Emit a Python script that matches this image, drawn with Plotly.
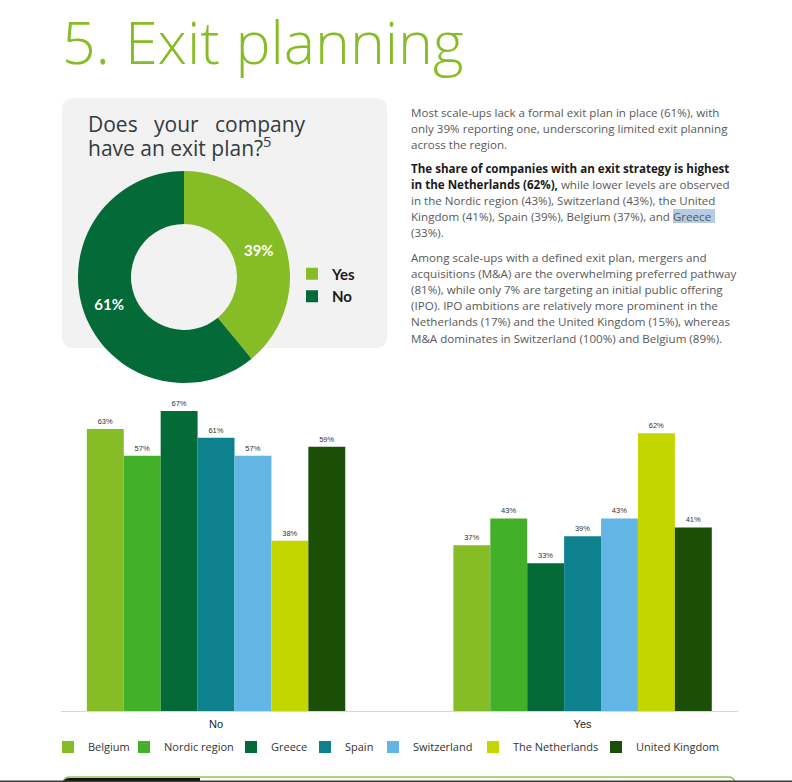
import plotly.graph_objects as go

# ---------------- data ----------------
TITLE = "5. Exit planning"
QUESTION_LINES = ["Does&nbsp;&nbsp; your&nbsp;&nbsp; company", "have an exit plan?<sup>5</sup>"]

DONUT_LABELS = ["Yes", "No"]
DONUT_VALUES = [39, 61]
DONUT_COLORS = ["#86BC25", "#046A38"]

CATEGORIES = ["No", "Yes"]
COUNTRIES = ["Belgium", "Nordic region", "Greece", "Spain", "Switzerland",
             "The Netherlands", "United Kingdom"]
NO_VALUES = [63, 57, 67, 61, 57, 38, 59]
YES_VALUES = [37, 43, 33, 39, 43, 62, 41]
COUNTRY_COLORS = ["#86BC25", "#43B02A", "#046A38", "#0E818E", "#62B5E5",
                  "#C4D600", "#1B4F08"]

BOLD = "<span style='color:#1a1a1a'><b>{}</b></span>"
PARA1 = ["Most scale-ups lack a formal exit plan in place (61%), with",
         "only 39% reporting one, underscoring limited exit planning",
         "across the region."]
PARA2 = [BOLD.format("The share of companies with an exit strategy is highest"),
         BOLD.format("in the Netherlands (62%),") + " while lower levels are observed",
         "in the Nordic region (43%), Switzerland (43%), the United",
         "Kingdom (41%), Spain (39%), Belgium (37%), and Greece",
         "(33%)."]
PARA3 = ["Among scale-ups with a defined exit plan, mergers and",
         "acquisitions (M&amp;A) are the overwhelming preferred pathway",
         "(81%), while only 7% are targeting an initial public offering",
         "(IPO). IPO ambitions are relatively more prominent in the",
         "Netherlands (17%) and the United Kingdom (15%), whereas",
         "M&amp;A dominates in Switzerland (100%) and Belgium (89%)."]

# ---------------- layout helpers ----------------
W, H = 792, 782


def px(x):
    return x / W


def py(y):
    return 1 - y / H


fig = go.Figure()

# donut
fig.add_trace(go.Pie(
    labels=DONUT_LABELS, values=DONUT_VALUES, sort=False, direction="clockwise",
    hole=0.5, marker=dict(colors=DONUT_COLORS, line=dict(width=0)),
    texttemplate="%{value}%", textposition="inside",
    insidetextorientation="horizontal",
    textfont=dict(family="Lato", size=15, color="white", weight="bold"),
    domain=dict(x=[px(78), px(290)], y=[py(383), py(171)]),
    legend="legend8", hoverinfo="label+percent",
))

# grouped bars
for i, name in enumerate(COUNTRIES):
    vals = [NO_VALUES[i], YES_VALUES[i]]
    fig.add_trace(go.Bar(
        x=CATEGORIES, y=vals, name=name,
        marker=dict(color=COUNTRY_COLORS[i], line=dict(width=0)),
        text=[f"{v}%" for v in vals], textposition="outside",
        textfont=dict(family="Liberation Sans", size=7.5, color="#333333"),
        cliponaxis=False, showlegend=True,
        legend="legend" if i == 0 else f"legend{i + 1}",
    ))

LEGEND_X_PX = [62, 138, 245, 319, 387, 487, 610]
legend_layout = {}
for i, x0 in enumerate(LEGEND_X_PX):
    key = "legend" if i == 0 else f"legend{i + 1}"
    legend_layout[key] = dict(
        orientation="h", x=px(x0 - 14), xanchor="left",
        y=py(747), yanchor="middle", visible=True,
        font=dict(family="Open Sans", size=11, color="#333333"),
        bgcolor="rgba(0,0,0,0)", borderwidth=0,
    )
legend_layout["legend8"] = dict(
    orientation="v", x=px(306 - 14), xanchor="left",
    y=py(285), yanchor="middle", tracegroupgap=0,
    font=dict(family="Lato", size=15, color="#1a1a1a", weight="bold"),
    bgcolor="rgba(0,0,0,0)", borderwidth=0,
)

# text annotations
annotations = [
    dict(text=TITLE, x=px(60), y=py(41), xanchor="left", yanchor="middle",
         font=dict(family="Open Sans Light, Open Sans", size=59, color="#86BC25", weight=300)),
    dict(text=QUESTION_LINES[0], x=px(86), y=py(124), xanchor="left", yanchor="middle",
         font=dict(family="Open Sans", size=21, color="#333a40")),
    dict(text=QUESTION_LINES[1], x=px(86), y=py(147), xanchor="left", yanchor="middle",
         font=dict(family="Open Sans", size=21, color="#333a40")),
]
text_font = dict(family="Open Sans", size=11.6, color="#595959")
for lines, y0 in [(PARA1, 112), (PARA2, 168), (PARA3, 257)]:
    for j, line in enumerate(lines):
        annotations.append(dict(text=line, x=px(409), y=py(y0 + 16.2 * j),
                                xanchor="left", yanchor="middle",
                                font=text_font, showarrow=False))
for a in annotations:
    a.update(xref="paper", yref="paper", showarrow=False, align="left")


def rounded_rect(x0, y0, x1, y1, r):
    rx, ry = r / W, r / H
    X0, X1 = px(x0), px(x1)
    Y0, Y1 = py(y0), py(y1)  # Y0 top, Y1 bottom
    return (f"M{X0 + rx},{Y0} L{X1 - rx},{Y0} Q{X1},{Y0} {X1},{Y0 - ry} "
            f"L{X1},{Y1 + ry} Q{X1},{Y1} {X1 - rx},{Y1} L{X0 + rx},{Y1} "
            f"Q{X0},{Y1} {X0},{Y1 + ry} L{X0},{Y0 - ry} Q{X0},{Y0} {X0 + rx},{Y0} Z")


shapes = [
    dict(type="path", path=rounded_rect(62, 98, 387, 348, 12), xref="paper", yref="paper",
         fillcolor="#F2F2F2", line=dict(width=0), layer="below"),
    # text selection highlight
    dict(type="rect", xref="paper", yref="paper", x0=px(673), x1=px(715),
         y0=py(223), y1=py(209), fillcolor="#B4CDE4", line=dict(width=0), layer="below"),
    # next section box (cut off at the page bottom)
    dict(type="path", xref="paper", yref="paper",
         path=(f"M{px(63)},{py(790)} L{px(63)},{py(784)} Q{px(63)},{py(777)} {px(70)},{py(777)} "
               f"L{px(728)},{py(777)} Q{px(735)},{py(777)} {px(735)},{py(784)} L{px(735)},{py(790)}"),
         line=dict(color="#8CC65A", width=1.5), layer="above"),
    dict(type="path", xref="paper", yref="paper",
         path=(f"M{px(63)},{py(783)} L{px(63)},{py(784)} Q{px(63)},{py(778)} {px(70)},{py(778)} "
               f"L{px(200)},{py(778)} L{px(200)},{py(783)} Z"),
         fillcolor="#111111", line=dict(width=0), layer="above"),
    dict(type="line", xref="paper", yref="paper", x0=0, x1=1, y0=py(781.2), y1=py(781.2),
         line=dict(color="#3a3a3a", width=1.6), layer="above"),
]

fig.update_layout(
    width=W, height=H, margin=dict(l=0, r=0, t=0, b=0),
    paper_bgcolor="white", plot_bgcolor="rgba(0,0,0,0)",
    showlegend=True,
    barmode="group", bargap=0.295, bargroupgap=0,
    xaxis=dict(domain=[px(61), px(738)], type="category", range=[-0.423, 1.424],
               showline=True, linecolor="#d6d6d6", linewidth=1, ticks="",
               ticklabelstandoff=3,
               showgrid=False, zeroline=False,
               tickfont=dict(family="Liberation Sans", size=11, color="#222222")),
    yaxis=dict(domain=[py(711), py(711 - 74 * 4.478)], range=[0, 74], visible=False),
    annotations=annotations, shapes=shapes,
    **legend_layout,
)

fig.write_html("out.html")
